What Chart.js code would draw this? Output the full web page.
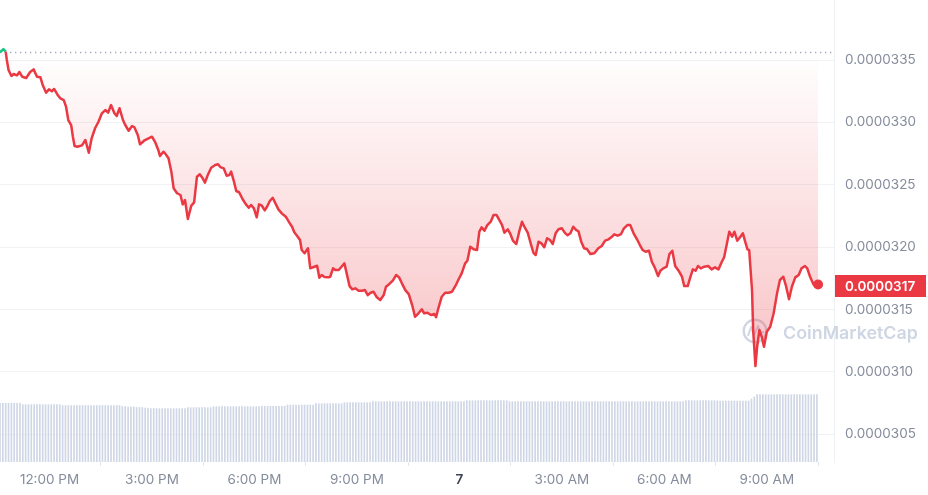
<!DOCTYPE html>
<html lang="en">
<head>
<meta charset="UTF-8">
<title>Price chart</title>
<script src="https://cdn.jsdelivr.net/npm/chart.js"></script>
<style>
  body { margin: 0; background: #fff; }
  #wrap { width: 928px; height: 495px; }
</style>
</head>
<body>
<div id="wrap"><canvas id="priceChart" width="928" height="495"></canvas></div>
<script>
// time of each price point, in minutes after midnight of the 6th (1440 = midnight of the 7th)
const minutes = [
  633,639,643,645,648,653,657,663,667,672,679,686,692,698,704,708,714,719,724,728,
  734,739,745,749,753,758,761,764,769,777,783,789,794,800,806,812,818,823,828,834,
  838,843,849,853,859,865,869,875,879,886,894,900,906,911,914,920,
  923,929,934,938,944,950,954,958,963,969,974,979,984,989,993,998,1004,1011,1016,1020,
  1026,1031,1036,1039,1044,1048,1053,1059,1065,1070,1074,1079,1084,1088,1093,1098,1102,1107,1112,1116,
  1122,1128,1135,1141,1146,1150,1156,1160,1163,1168,1174,1178,1184,1190,1194,1198,1203,1210,
  1213,1218,1222,1228,1234,1238,1242,1247,1252,1257,1263,1269,1274,1279,1284,1289,1295,1301,1307,1311,
  1317,1323,1329,1334,1339,1345,1351,1357,1362,1368,1374,1378,1384,1390,1396,1399,1403,1409,1415,1421,
  1427,1433,1438,1444,1450,1454,1459,1465,1471,1475,1479,1484,1489,1495,1500,1505,
  1510,1515,1519,1525,1529,1534,1540,1545,1550,1554,1560,1566,1570,1574,1579,1584,1589,1594,1599,1604,
  1609,1614,1620,1625,1630,1635,1640,1645,1649,1654,1659,1664,1670,1677,1684,1690,1696,1702,1708,1712,
  1718,1724,1729,1735,1740,1746,1752,1757,1762,1767,1773,1778,1783,1789,1793,
  1798,1804,1809,1814,1819,1825,1831,1835,1841,1845,1850,1855,1859,1864,1870,1877,1883,1889,1895,1901,
  1905,1910,1914,1919,1923,1928,1933,1938,1942,1946,1949,1954,1956,1960,1963,1967,1971,1975,1980,1986,
  1992,1998,2003,2009,2014,2019,2024,2030,2036,2041,2047,2051,2056,2062,2070
];

const prices = [
  3.3562e-5,3.3588e-5,3.3567e-5,3.3500e-5,3.3420e-5,3.3372e-5,3.3388e-5,3.3377e-5,3.3404e-5,3.3366e-5,
  3.3356e-5,3.3404e-5,3.3425e-5,3.3366e-5,3.3361e-5,3.3300e-5,3.3238e-5,3.3265e-5,3.3249e-5,3.3268e-5,
  3.3222e-5,3.3193e-5,3.3179e-5,3.3126e-5,3.3019e-5,3.2979e-5,3.2885e-5,3.2811e-5,3.2805e-5,3.2816e-5,
  3.2859e-5,3.2757e-5,3.2872e-5,3.2953e-5,3.3005e-5,3.3073e-5,3.3099e-5,3.3078e-5,3.3139e-5,3.3073e-5,
  3.3051e-5,3.3113e-5,3.3019e-5,3.2979e-5,3.2933e-5,3.2971e-5,3.2961e-5,3.2899e-5,3.2824e-5,3.2853e-5,
  3.2872e-5,3.2885e-5,3.2837e-5,3.2779e-5,3.2731e-5,3.2765e-5,
  3.2752e-5,3.2712e-5,3.2605e-5,3.2472e-5,3.2432e-5,3.2418e-5,3.2343e-5,3.2378e-5,3.2226e-5,3.2332e-5,
  3.2359e-5,3.2565e-5,3.2584e-5,3.2552e-5,3.2517e-5,3.2578e-5,3.2637e-5,3.2658e-5,3.2664e-5,3.2642e-5,
  3.2632e-5,3.2573e-5,3.2578e-5,3.2605e-5,3.2525e-5,3.2450e-5,3.2440e-5,3.2386e-5,3.2343e-5,3.2316e-5,
  3.2338e-5,3.2311e-5,3.2239e-5,3.2343e-5,3.2332e-5,3.2295e-5,3.2324e-5,3.2370e-5,3.2396e-5,3.2359e-5,
  3.2303e-5,3.2271e-5,3.2244e-5,3.2199e-5,3.2164e-5,3.2119e-5,3.2084e-5,3.2057e-5,3.1977e-5,3.1951e-5,
  3.1991e-5,3.1830e-5,3.1841e-5,3.1851e-5,3.1755e-5,3.1777e-5,3.1761e-5,3.1758e-5,
  3.1763e-5,3.1830e-5,3.1817e-5,3.1817e-5,3.1849e-5,3.1870e-5,3.1790e-5,3.1688e-5,3.1662e-5,3.1670e-5,
  3.1651e-5,3.1651e-5,3.1656e-5,3.1616e-5,3.1635e-5,3.1643e-5,3.1598e-5,3.1576e-5,3.1616e-5,3.1683e-5,
  3.1705e-5,3.1731e-5,3.1777e-5,3.1758e-5,3.1710e-5,3.1656e-5,3.1624e-5,3.1536e-5,3.1442e-5,3.1470e-5,
  3.1502e-5,3.1470e-5,3.1474e-5,3.1456e-5,3.1464e-5,3.1438e-5,3.1510e-5,3.1603e-5,3.1635e-5,3.1635e-5,
  3.1643e-5,3.1689e-5,3.1737e-5,3.1790e-5,3.1870e-5,3.1891e-5,3.2004e-5,3.1983e-5,3.1977e-5,3.2124e-5,
  3.2159e-5,3.2132e-5,3.2177e-5,3.2204e-5,3.2258e-5,3.2258e-5,
  3.2218e-5,3.2177e-5,3.2116e-5,3.2143e-5,3.2111e-5,3.2052e-5,3.2025e-5,3.2124e-5,3.2204e-5,3.2164e-5,
  3.2116e-5,3.2017e-5,3.1955e-5,3.1937e-5,3.2044e-5,3.2031e-5,3.1999e-5,3.2071e-5,3.2057e-5,3.2025e-5,
  3.2111e-5,3.2143e-5,3.2151e-5,3.2116e-5,3.2095e-5,3.2111e-5,3.2164e-5,3.2137e-5,3.2129e-5,3.2044e-5,
  3.1991e-5,3.1985e-5,3.1945e-5,3.1951e-5,3.1991e-5,3.2009e-5,3.2052e-5,3.2063e-5,3.2084e-5,3.2103e-5,
  3.2092e-5,3.2105e-5,3.2151e-5,3.2177e-5,3.2177e-5,3.2111e-5,3.2063e-5,3.2017e-5,3.1977e-5,3.1963e-5,
  3.1971e-5,3.1883e-5,3.1838e-5,3.1769e-5,3.1811e-5,
  3.1830e-5,3.1843e-5,3.1945e-5,3.1971e-5,3.1849e-5,3.1811e-5,3.1763e-5,3.1688e-5,3.1688e-5,3.1750e-5,
  3.1822e-5,3.1811e-5,3.1849e-5,3.1830e-5,3.1843e-5,3.1849e-5,3.1822e-5,3.1838e-5,3.1822e-5,3.1883e-5,
  3.1919e-5,3.2031e-5,3.2124e-5,3.2084e-5,3.2124e-5,3.2052e-5,3.2079e-5,3.2111e-5,3.2044e-5,3.1983e-5,
  3.1977e-5,3.1656e-5,3.1336e-5,3.1047e-5,3.1202e-5,3.1336e-5,3.1282e-5,3.1202e-5,3.1322e-5,3.1362e-5,
  3.1470e-5,3.1630e-5,3.1737e-5,3.1763e-5,3.1683e-5,3.1582e-5,3.1683e-5,3.1758e-5,3.1777e-5,3.1830e-5,
  3.1849e-5,3.1830e-5,3.1763e-5,3.1700e-5,3.1700e-5
];

// volume bars every 5 minutes from 10:33 on the 6th (relative units)
const volStart = 633;
const volStep = 5;
const volumes = [
  58.7,58.7,58.7,58.7,58.7,58.7,58.7,58.7,
  57.3,57.3,57.3,57.3,57.3,57.3,57.3,57.3,57.3,57.3,57.3,57.3,57.3,57.3,
  56.5,56.5,56.5,56.5,56.5,56.5,56.5,56.5,56.5,56.5,56.5,56.5,56.5,56.5,56.5,56.5,56.5,56.5,56.5,56.5,56.5,
  55.5,55.5,55,55,55,54.5,54.5,54.5,54,54,53.5,53.5,53.5,
  53.3,53.3,53.3,53.3,53.3,53.3,53.3,53.3,53.3,53.3,
  54.3,54.3,54.3,54.3,54.3,54.3,54.3,54.3,54.3,
  55.3,55.3,55.3,55.3,55.3,55.3,55.3,55.3,55.3,55.3,55.3,55.3,55.3,55.3,55.3,55.3,55.3,
  55.7,55.7,55.7,55.7,55.7,55.7,55.7,55.7,55.7,
  57,57,57,57,57,57,57,57,57,57,
  58.3,58.3,58.3,58.3,58.3,58.3,58.3,58.3,58.3,58.3,
  59.3,59.3,59.3,59.3,59.3,59.3,59.3,59.3,59.3,59.3,
  60.3,60.3,60.3,60.3,60.3,60.3,60.3,60.3,60.3,60.3,60.3,
  60.3,60.3,60.3,60.3,60.3,60.3,60.3,60.3,60.3,60.3,60.3,
  60.3,60.3,60.3,60.3,60.3,60.3,60.3,60.3,60.3,60.3,60.3,
  61.3,61.3,61.3,61.3,61.3,61.3,61.3,61.3,61.3,61.3,61.3,61.3,61.3,61.3,61.3,
  60.3,60.3,60.3,60.3,60.3,60.3,60.3,60.3,60.3,60.3,
  60.3,60.3,60.3,60.3,60.3,60.3,60.3,60.3,60.3,60.3,
  60.3,60.3,60.3,60.3,60.3,60.3,60.3,60.3,60.3,60.3,
  60.3,60.3,60.3,60.3,60.3,60.3,60.3,60.3,60.3,60.3,
  60.3,60.3,60.3,60.3,60.3,60.3,60.3,60.3,60.3,60.3,
  60.3,60.3,60.3,60.3,60.3,60.3,60.3,60.3,60.3,60.3,60.3,60.3,
  61.3,61.3,61.3,61.3,61.3,61.3,61.3,61.3,61.3,61.3,61.3,
  61,61,61,61,61,61,61,61,61,61,61,61,
  63,65,
  67.3,67.3,67.3,67.3,67.3,67.3,67.3,67.3,67.3,67.3,67.3,
  67.3,67.3,67.3,67.3,67.3,67.3,67.3,67.3,67.3,67.3,67.3
];

const priceTicks = [0.0000305, 0.0000310, 0.0000315, 0.0000320, 0.0000325, 0.0000330, 0.0000335];
const timeTicks = [720, 900, 1080, 1260, 1440, 1620, 1800, 1980];
const timeLabels = ['12:00 PM', '3:00 PM', '6:00 PM', '9:00 PM', '7', '3:00 AM', '6:00 AM', '9:00 AM'];

const RED = '#ea3943';
const GREEN = '#16c784';
const openPrice = prices[0];
const lastPrice = prices[prices.length - 1];

const priceData = minutes.map((m, i) => ({ x: m, y: prices[i] }));
const volData = volumes.map((v, i) => ({ x: volStart + i * volStep, y: v }));

Chart.defaults.font.family = 'Inter';

function fillGradient(c) {
  const chart = c.chart;
  const area = chart.chartArea;
  if (!area) return 'rgba(234,57,67,0.1)';
  const top = chart.scales.y.getPixelForValue(openPrice);
  const g = chart.ctx.createLinearGradient(0, top, 0, area.bottom);
  g.addColorStop(0, 'rgba(234,57,67,0)');
  g.addColorStop(1, 'rgba(234,57,67,0.4)');
  return g;
}

// dotted open-price line and the watermark, under the data
const backdrop = {
  id: 'backdrop',
  beforeDatasetsDraw(chart) {
    const { ctx, chartArea, scales } = chart;
    const y = Math.round(scales.y.getPixelForValue(openPrice)) + 0.5;
    ctx.save();
    ctx.strokeStyle = '#a3abba';
    ctx.lineWidth = 1.3;
    ctx.setLineDash([1.3, 3.7]);
    ctx.beginPath();
    ctx.moveTo(chartArea.left, y);
    ctx.lineTo(chartArea.right, y);
    ctx.stroke();
    ctx.setLineDash([]);

    // CoinMarketCap watermark
    const cx = 755, cy = 331;
    ctx.strokeStyle = '#cfd6e3';
    ctx.fillStyle = '#cfd6e3';
    ctx.lineWidth = 2.4;
    ctx.beginPath();
    ctx.arc(cx, cy, 11.3, 0, Math.PI * 2);
    ctx.stroke();
    ctx.lineWidth = 2;
    ctx.lineJoin = 'round';
    ctx.beginPath();
    ctx.moveTo(cx - 7, cy + 5);
    ctx.lineTo(cx - 4, cy - 4);
    ctx.lineTo(cx - 1, cy + 4);
    ctx.lineTo(cx + 3, cy - 5);
    ctx.lineTo(cx + 5, cy + 2);
    ctx.lineTo(cx + 9, cy + 1);
    ctx.stroke();
    let size = 18;
    ctx.font = '600 ' + size + 'px Inter';
    size = size * 135 / ctx.measureText('CoinMarketCap').width;
    ctx.font = '600 ' + size.toFixed(2) + 'px Inter';
    ctx.textBaseline = 'alphabetic';
    ctx.fillText('CoinMarketCap', 783, 338.5);
    ctx.restore();
  },
  afterDraw(chart) {
    const { ctx, chartArea, scales } = chart;
    const y = scales.y.getPixelForValue(lastPrice);
    ctx.save();
    ctx.fillStyle = RED;
    ctx.fillRect(chartArea.right + 1, Math.round(y) - 10, 91, 22);
    ctx.fillStyle = '#ffffff';
    ctx.font = '600 13.5px Inter';
    ctx.textBaseline = 'middle';
    ctx.fillText(lastPrice.toFixed(7), chartArea.right + 11, Math.round(y) + 1.5);
    ctx.restore();
  }
};

new Chart(document.getElementById('priceChart'), {
  type: 'line',
  data: {
    datasets: [
      {
        type: 'line',
        data: priceData,
        yAxisID: 'y',
        order: 1,
        borderColor: RED,
        borderWidth: 2.5,
        borderJoinStyle: 'round',
        tension: 0,
        pointRadius: c => c.dataIndex === priceData.length - 1 ? 5 : 0,
        pointHoverRadius: 0,
        pointBackgroundColor: RED,
        pointBorderWidth: 0,
        segment: {
          borderColor: c => Math.min(c.p0.parsed.y, c.p1.parsed.y) >= openPrice ? GREEN : RED
        },
        fill: { target: { value: openPrice } },
        backgroundColor: fillGradient
      },
      {
        type: 'bar',
        data: volData,
        yAxisID: 'vol',
        order: 2,
        backgroundColor: '#cfd6e5',
        barThickness: 1,
        grouped: false
      }
    ]
  },
  options: {
    responsive: false,
    animation: false,
    devicePixelRatio: 1,
    layout: { padding: 0, autoPadding: false },
    plugins: {
      legend: { display: false },
      tooltip: { enabled: false }
    },
    scales: {
      x: {
        type: 'linear',
        min: 633,
        max: 2098,
        offset: false,
        afterBuildTicks: s => { s.ticks = timeTicks.map(v => ({ value: v })); },
        afterFit: s => { s.height = 33; s.paddingLeft = 0; s.paddingRight = 0; },
        grid: { drawOnChartArea: false, drawTicks: true, tickLength: 4, color: '#e4e7ec' },
        border: { display: false },
        ticks: {
          autoSkip: false,
          maxRotation: 0,
          padding: 6,
          color: c => c.tick && c.tick.value === 1440 ? '#3d4350' : '#858c9c',
          font: c => ({ family: 'Inter', size: 13.5, weight: c.tick && c.tick.value === 1440 ? '600' : '400' }),
          callback: v => timeLabels[timeTicks.indexOf(v)]
        }
      },
      y: {
        position: 'right',
        min: 3.0278e-5,
        max: 3.3981e-5,
        afterBuildTicks: s => { s.ticks = priceTicks.map(v => ({ value: v })); },
        afterFit: s => { s.width = 94; s.paddingTop = 0; s.paddingBottom = 0; },
        grid: { color: '#f0f2f5', drawTicks: false },
        border: { display: true, color: '#eff2f5' },
        ticks: {
          padding: 11,
          color: '#858c9c',
          font: { family: 'Inter', size: 13.5 },
          callback: v => v.toFixed(7)
        }
      },
      vol: { display: false, min: 0, max: 462 }
    }
  },
  plugins: [backdrop]
});
</script>
</body>
</html>
